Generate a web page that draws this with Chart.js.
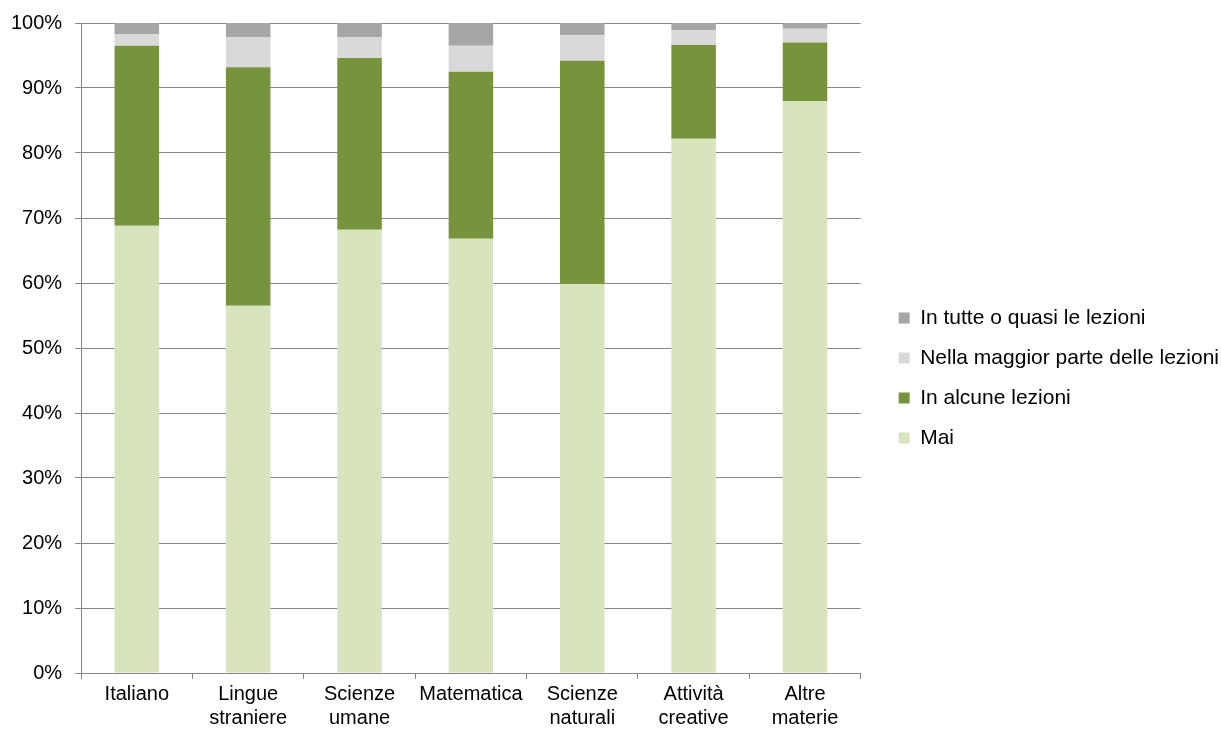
<!DOCTYPE html>
<html>
<head>
<meta charset="utf-8">
<script src="https://cdn.jsdelivr.net/npm/chart.js@4/dist/chart.umd.min.js"></script>
<style>
  html, body { margin: 0; padding: 0; background: #fff; }
  #wrap { width: 1221px; height: 733px; }
</style>
</head>
<body>
<div id="wrap"><canvas id="c" width="1221" height="733"></canvas></div>
<script>
// Subjects on the category axis (multi-line labels)
const categories = [
  'Italiano',
  ['Lingue', 'straniere'],
  ['Scienze', 'umane'],
  'Matematica',
  ['Scienze', 'naturali'],
  ['Attività', 'creative'],
  ['Altre', 'materie']
];

// Share of lessons (%) per answer
const mai          = [68.8, 56.5, 68.2, 66.8, 59.8, 82.2, 88.0];
const alcune       = [27.7, 36.7, 26.4, 25.7, 34.4, 14.4,  9.0];
const maggiorParte = [ 1.8,  4.6,  3.2,  4.0,  3.9,  2.3,  2.1];
const tutte        = [ 1.7,  2.2,  2.2,  3.5,  1.9,  1.1,  0.9];

const seriesNames = [
  'Mai',
  'In alcune lezioni',
  'Nella maggior parte delle lezioni',
  'In tutte o quasi le lezioni'
];

const yTicks = [0, 10, 20, 30, 40, 50, 60, 70, 80, 90, 100];

const FONT = 'Liberation Sans, Arial, Helvetica, sans-serif';
const AXIS = '#868686';

const mk = (label, data, color) => ({
  label, data, backgroundColor: color, borderWidth: 0,
  barPercentage: 0.40, categoryPercentage: 1.0
});

new Chart(document.getElementById('c'), {
  type: 'bar',
  data: {
    labels: categories,
    datasets: [
      mk(seriesNames[0], mai, '#D7E4BD'),
      mk(seriesNames[1], alcune, '#77933C'),
      mk(seriesNames[2], maggiorParte, '#D9D9D9'),
      mk(seriesNames[3], tutte, '#A6A6A6')
    ]
  },
  options: {
    responsive: false,
    animation: false,
    layout: { padding: { left: -2, right: -8, top: 23, bottom: 0 } },
    plugins: {
      tooltip: { enabled: false },
      legend: {
        position: 'right',
        reverse: true,
        align: 'center',
        maxWidth: 420,
        labels: {
          boxWidth: 11,
          boxHeight: 11,
          padding: 19,
          color: '#000',
          font: { family: FONT, size: 21 }
        }
      }
    },
    scales: {
      x: {
        stacked: true,
        border: { display: true, color: AXIS, width: 1 },
        grid: {
          display: true,
          offset: true,
          drawOnChartArea: false,
          drawTicks: true,
          tickLength: 6,
          color: AXIS
        },
        ticks: {
          color: '#000',
          maxRotation: 0,
          autoSkip: false,
          padding: 3,
          font: { family: FONT, size: 20, lineHeight: 1.2 }
        }
      },
      y: {
        stacked: true,
        min: 0,
        max: 100,
        afterBuildTicks: (axis) => { axis.ticks = yTicks.map(v => ({ value: v })); },
        // top spacing comes from the layout padding only
        afterFit: (s) => { s.paddingTop = 0; s.paddingBottom = 0; },
        border: { display: true, color: AXIS, width: 1 },
        grid: {
          color: AXIS,
          lineWidth: 1,
          drawTicks: true,
          tickLength: 6
        },
        ticks: {
          color: '#000',
          padding: 13,
          font: { family: FONT, size: 20 },
          callback: (v) => v + '%'
        }
      },
      // empty spacer between the plot and the legend
      gap: {
        type: 'linear',
        position: 'right',
        display: true,
        grid: { display: false },
        border: { display: false },
        ticks: { display: false },
        afterFit: (s) => { s.width = 19; }
      }
    }
  }
});
</script>
</body>
</html>
